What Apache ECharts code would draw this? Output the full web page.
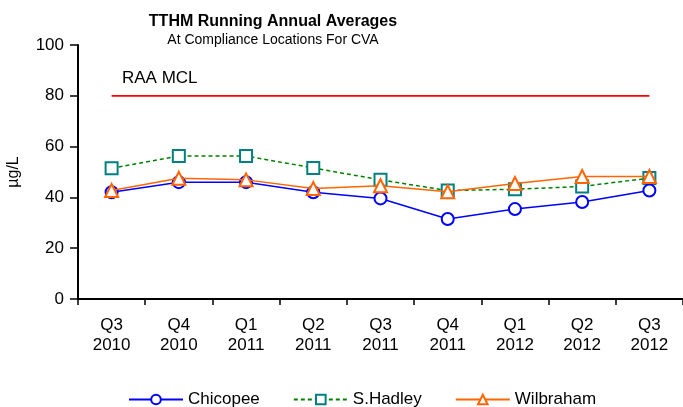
<!DOCTYPE html>
<html>
<head>
<meta charset="utf-8">
<script src="https://cdn.jsdelivr.net/npm/echarts@6/dist/echarts.min.js"></script>
<style>
  html, body { margin: 0; padding: 0; background: #fff; }
  #chart { width: 683px; height: 407px; }
</style>
</head>
<body>
<div id="chart"></div>
<script>
// quarters on the x axis
const quarters = ["Q3\n2010", "Q4\n2010", "Q1\n2011", "Q2\n2011", "Q3\n2011", "Q4\n2011", "Q1\n2012", "Q2\n2012", "Q3\n2012"];
// running annual averages, µg/L
const chicopee = [42, 46, 46, 42, 39.6, 31.5, 35.4, 38.2, 42.7];
const sHadley = [51.5, 56.3, 56.3, 51.6, 46.9, 42.7, 43.2, 44.3, 47.6];
const wilbraham = [42.7, 47.5, 46.9, 43.5, 44.6, 42.2, 45.5, 48.2, 48.2];
const mcl = [80, 80, 80, 80, 80, 80, 80, 80, 80];

const font = "Liberation Sans, Arial, sans-serif";
const chart = echarts.init(document.getElementById("chart"));

const option = {
  animation: false,
  textStyle: { fontFamily: font, color: "#000" },
  title: {
    text: "TTHM Running Annual Averages",
    subtext: "At Compliance Locations For CVA",
    left: 268,
    textAlign: "center",
    top: 9,
    itemGap: 3,
    textStyle: { fontSize: 16, fontWeight: "bold", color: "#000", fontFamily: font },
    subtextStyle: { fontSize: 14, color: "#000", fontFamily: font },
  },
  grid: { left: 78, right: 0, top: 45, bottom: 108, outerBoundsMode: "none" },
  legend: {
    top: 386,
    left: 123,
    itemWidth: 54,
    itemHeight: 12,
    itemGap: 33,
    data: ["Chicopee", "S.Hadley", "Wilbraham"],
    textStyle: { fontSize: 17, color: "#000", fontFamily: font },
  },
  xAxis: {
    type: "category",
    data: quarters,
    boundaryGap: true,
    axisLine: { lineStyle: { color: "#000", width: 2 } },
    axisTick: { show: true, length: 6, lineStyle: { color: "#000", width: 1.5 } },
    axisLabel: { fontSize: 17, color: "#000", lineHeight: 20, margin: 16, fontFamily: font },
  },
  yAxis: {
    type: "value",
    min: 0,
    max: 100,
    interval: 20,
    name: "µg/L",
    nameLocation: "middle",
    nameGap: 56,
    nameTextStyle: { fontSize: 16, color: "#000", fontFamily: font },
    splitLine: { show: false },
    axisLine: { show: true, lineStyle: { color: "#000", width: 2 } },
    axisTick: { show: true, length: 8, lineStyle: { color: "#000", width: 1.5 } },
    axisLabel: { fontSize: 17, color: "#000", margin: 14, fontFamily: font },
  },
  series: [
    {
      name: "RAA MCL",
      type: "line",
      data: mcl,
      symbol: "none",
      lineStyle: { color: "#FF0000", width: 1.8 },
      itemStyle: { color: "#FF0000" },
      silent: true,
      z: 1,
    },
    {
      name: "Chicopee",
      type: "line",
      data: chicopee,
      symbol: "emptyCircle",
      symbolSize: 12,
      lineStyle: { color: "#0000FF", width: 1.5 },
      itemStyle: { color: "#0000FF", borderColor: "#0000FF", borderWidth: 1.8 },
      z: 3,
    },
    {
      name: "S.Hadley",
      type: "line",
      data: sHadley,
      symbol: "emptyRect",
      symbolSize: 12,
      lineStyle: { color: "#008000", width: 1.5, type: [4, 3] },
      itemStyle: { color: "#008080", borderColor: "#008080", borderWidth: 1.8 },
      z: 2,
    },
    {
      name: "Wilbraham",
      type: "line",
      data: wilbraham,
      symbol: "emptyTriangle",
      symbolSize: 13,
      lineStyle: { color: "#FF6600", width: 1.5 },
      itemStyle: { color: "#FF6600", borderColor: "#FF6600", borderWidth: 1.8 },
      z: 4,
    },
  ],
  graphic: [
    {
      type: "text",
      left: 122,
      top: 70,
      style: { text: "RAA MCL", fontSize: 17, fill: "#000", fontFamily: font },
    },
  ],
};

chart.setOption(option);
</script>
</body>
</html>
